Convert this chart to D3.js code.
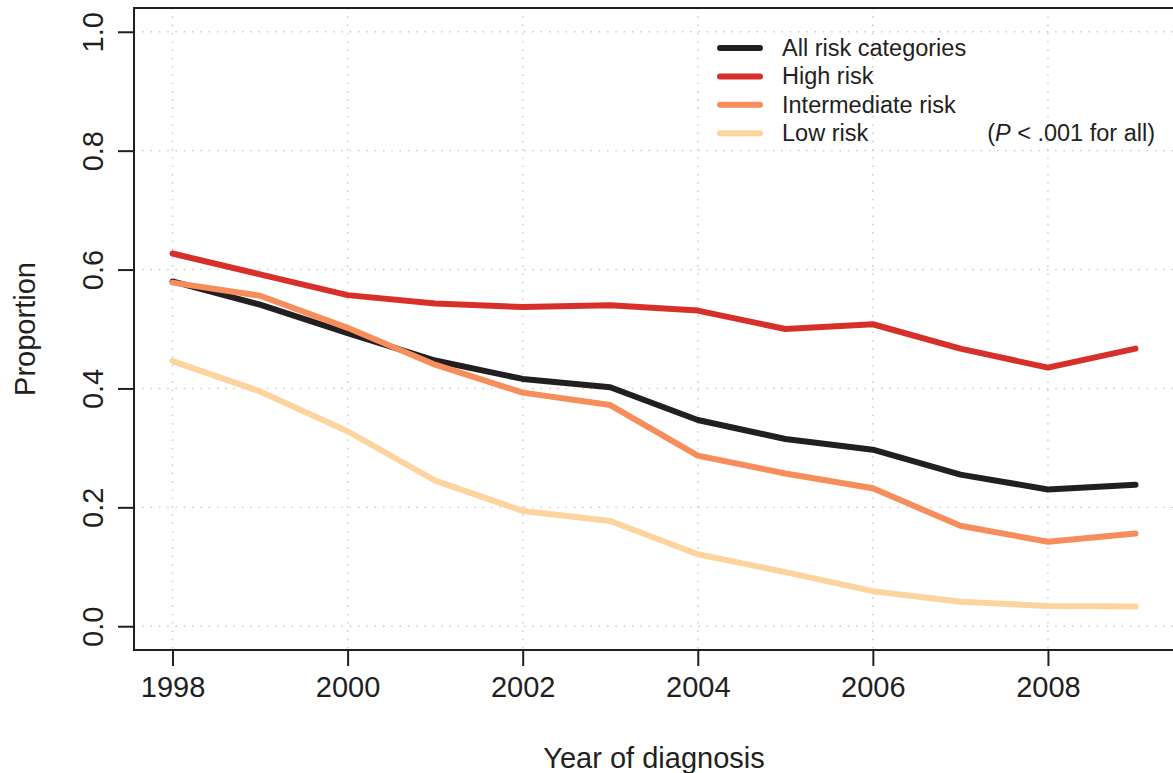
<!DOCTYPE html>
<html>
<head>
<meta charset="utf-8">
<script src="https://cdn.jsdelivr.net/npm/d3@7"></script>
<style>
  html, body { margin: 0; padding: 0; background: #fff; }
  svg { display: block; font-family: "Liberation Sans", Arial, Helvetica, sans-serif; }
</style>
</head>
<body>
<svg id="chart" width="1173" height="773"></svg>
<script>
const years = [1998, 1999, 2000, 2001, 2002, 2003, 2004, 2005, 2006, 2007, 2008, 2009];
const allRisk = [0.580, 0.541, 0.493, 0.447, 0.416, 0.402, 0.347, 0.315, 0.297, 0.255, 0.230, 0.238];
const highRisk = [0.627, 0.592, 0.557, 0.543, 0.537, 0.540, 0.531, 0.500, 0.508, 0.467, 0.435, 0.467];
const intermediateRisk = [0.578, 0.556, 0.502, 0.440, 0.393, 0.372, 0.287, 0.257, 0.232, 0.169, 0.142, 0.156];
const lowRisk = [0.446, 0.395, 0.328, 0.245, 0.194, 0.177, 0.121, 0.091, 0.059, 0.041, 0.034, 0.033];
const seriesNames = ["All risk categories", "High risk", "Intermediate risk", "Low risk"];
const seriesColors = ["#231f20", "#d7302a", "#f68d5a", "#fdd49e"];
const xTicks = [1998, 2000, 2002, 2004, 2006, 2008];
const yTicks = [0.0, 0.2, 0.4, 0.6, 0.8, 1.0];
const xLabel = "Year of diagnosis";
const yLabel = "Proportion";

const series = [allRisk, highRisk, intermediateRisk, lowRisk];

const svg = d3.select("#chart");
const ink = "#231f20";
const box = { left: 134, right: 1174, top: 8, bottom: 650 };

const x = d3.scaleLinear().domain([1997.56, 2009.44]).range([box.left, box.right]);
const y = d3.scaleLinear().domain([-0.04, 1.04]).range([box.bottom, box.top]);

// Grid
const grid = svg.append("g").attr("stroke", "#c6c6c6").attr("stroke-width", 1.4)
  .attr("stroke-dasharray", "1.4,6.9");
grid.selectAll("line.v").data(xTicks).join("line").attr("class", "v")
  .attr("x1", d => x(d)).attr("x2", d => x(d)).attr("y1", box.top).attr("y2", box.bottom);
grid.selectAll("line.h").data(yTicks).join("line").attr("class", "h")
  .attr("y1", d => y(d)).attr("y2", d => y(d)).attr("x1", box.left).attr("x2", box.right);

// Axes via d3
const xAxis = d3.axisBottom(x).tickValues(xTicks).tickSize(16).tickPadding(10).tickFormat(d3.format("d"));
const gx = svg.append("g").attr("transform", `translate(0,${box.bottom})`).call(xAxis);
gx.select(".domain").remove();
gx.selectAll(".tick line").attr("stroke", ink).attr("stroke-width", 2);
gx.selectAll(".tick text").attr("fill", ink).attr("font-size", 29).attr("font-family", "Liberation Sans, Arial, sans-serif");

const yAxis = d3.axisLeft(y).tickValues(yTicks).tickSize(16).tickPadding(10).tickFormat(d3.format(".1f"));
const gy = svg.append("g").attr("transform", `translate(${box.left},0)`).call(yAxis);
gy.select(".domain").remove();
gy.selectAll(".tick line").attr("stroke", ink).attr("stroke-width", 2);
gy.selectAll(".tick text").attr("fill", ink).attr("font-size", 29)
  .attr("font-family", "Liberation Sans, Arial, sans-serif")
  .attr("text-anchor", "middle").attr("dy", null)
  .attr("x", null)
  .attr("transform", "translate(-41,0) rotate(-90)")
  .attr("dominant-baseline", "central");

// Box
svg.append("rect").attr("x", box.left).attr("y", box.top)
  .attr("width", box.right - box.left).attr("height", box.bottom - box.top)
  .attr("fill", "none").attr("stroke", ink).attr("stroke-width", 2);

// Lines
const line = d3.line().x((d, i) => x(years[i])).y(d => y(d));
svg.append("g").selectAll("path").data(series).join("path")
  .attr("d", d => line(d))
  .attr("fill", "none")
  .attr("stroke", (d, i) => seriesColors[i])
  .attr("stroke-width", 6)
  .attr("stroke-linecap", "round")
  .attr("stroke-linejoin", "round");

// Axis titles
svg.append("text").attr("x", (box.left + box.right) / 2).attr("y", 768)
  .attr("text-anchor", "middle").attr("font-size", 29).attr("fill", ink).text(xLabel);
svg.append("text").attr("transform", `translate(35,${(box.top + box.bottom) / 2}) rotate(-90)`)
  .attr("text-anchor", "middle").attr("font-size", 29).attr("fill", ink).text(yLabel);

// Legend
const legY0 = 48, legDY = 28.4;
const leg = svg.append("g");
seriesNames.forEach((name, i) => {
  const yy = legY0 + i * legDY;
  leg.append("line").attr("x1", 720).attr("x2", 760).attr("y1", yy).attr("y2", yy)
    .attr("stroke", seriesColors[i]).attr("stroke-width", 6).attr("stroke-linecap", "round");
  leg.append("text").attr("x", 782).attr("y", yy).attr("dominant-baseline", "central")
    .attr("font-size", 23.5).attr("fill", ink).text(name);
});
const pText = leg.append("text").attr("x", 1155).attr("y", legY0 + 3 * legDY)
  .attr("dominant-baseline", "central").attr("text-anchor", "end")
  .attr("font-size", 23.5).attr("fill", ink);
pText.append("tspan").text("(");
pText.append("tspan").attr("font-style", "italic").text("P");
pText.append("tspan").text(" < .001 for all)");
</script>
</body>
</html>
